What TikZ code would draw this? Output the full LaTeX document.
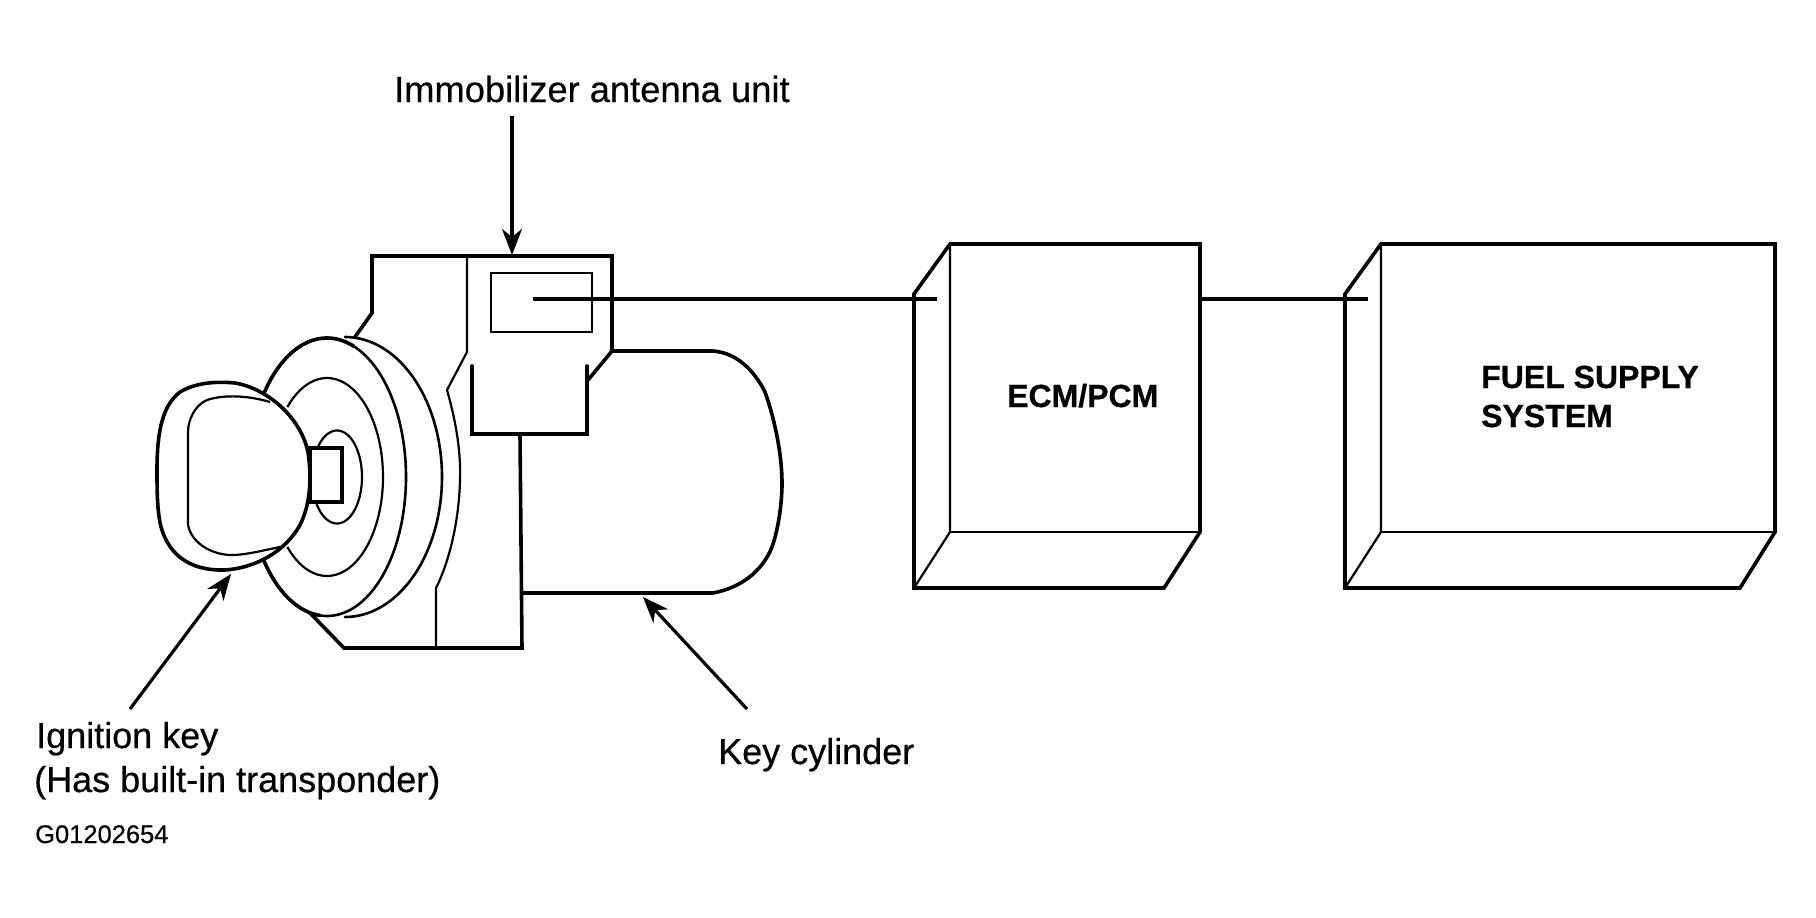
\documentclass[tikz,border=0pt]{standalone}
\usepackage{fontspec}
\setmainfont[FakeBold=0.5,BoldFeatures={FakeBold=0.6}]{Liberation Sans}
\usetikzlibrary{arrows.meta}
\tikzset{
  thickline/.style={line width=3.6pt,line join=miter,line cap=round},
  midline/.style={line width=2.6pt,line join=round,line cap=round},
  thinline/.style={line width=2.2pt,line join=miter},
  wire/.style={line width=3.4pt},
  pointer/.style={line width=3.2pt,-{Stealth[length=26pt,width=20pt,inset=8pt]}},
  label/.style={anchor=base west,inner sep=0pt,font=\fontsize{36.3}{36.3}\selectfont},
  lowlabel/.style={anchor=base west,inner sep=0pt,font=\fontsize{36}{36}\selectfont},
  boxlabel/.style={anchor=base west,inner sep=0pt,font=\fontsize{32}{32}\selectfont\bfseries},
  code/.style={anchor=base west,inner sep=0pt,font=\fontsize{25.5}{25.5}\selectfont}
}
\newcommand{\earc}[7][thinline]{\draw[#1] plot[domain=#6:#7,samples=70,smooth] ({#2+#4*cos(\x)},{#3-#5*sin(\x)});}
\begin{document}
\begin{tikzpicture}[x=1pt,y=-1pt]
\useasboundingbox[fill=white] (0,0) rectangle (1816,918);

% housing
\draw[thickline] (355,337) -- (372,313) -- (372,256) -- (612,256) -- (612,351) -- (588,380);
\draw[thickline] (472,366) -- (472,434) -- (587,434) -- (587,366);
\draw[thickline] (520,434) -- (522,648) -- (344,648) -- (310,613);
\draw[thinline] (467,256) -- (467,352) -- (447,390)
  .. controls (457,425) and (461,455) .. (460,480)
  .. controls (459,520) and (450,560) .. (436,588) -- (436,648);
\draw[thinline] (491,273) rectangle (592,332);

% cylinder
\draw[thickline] (613,351) -- (713,351)
  .. controls (738,353) and (755,372) .. (765,392)
  .. controls (775,420) and (782,455) .. (782,483)
  .. controls (782,505) and (778,530) .. (772,547)
  .. controls (762,572) and (740,588) .. (713,593) -- (522,593);

% discs
\earc[midline]{327}{477}{79}{139}{143}{-143}
\earc[thickline]{327}{477}{79}{139}{143}{70}
\earc[thickline]{327}{477}{79}{139}{-143}{-95}
\earc[midline]{345}{477}{97}{140}{90}{-90}
\earc[thinline]{327}{477}{56}{99}{135}{-135}
\earc[thinline]{337}{477}{25}{46.5}{152}{-152}
\draw[thickline,fill=white] (310,448) rectangle (342,502);

% key
\draw[thickline,fill=white] (157,470)
  .. controls (157,430) and (163,405) .. (180,392)
  .. controls (195,383) and (215,381) .. (235,383)
  .. controls (265,388) and (300,415) .. (308,452)
  .. controls (312,480) and (310,505) .. (300,525)
  .. controls (285,552) and (255,568) .. (225,570)
  .. controls (190,571) and (170,555) .. (162,530)
  .. controls (157,515) and (157,490) .. (157,470) -- cycle;
\draw[thinline] (270,402)
  .. controls (250,396) and (225,394) .. (207,400)
  .. controls (195,405) and (188,420) .. (188,432) -- (188,525)
  .. controls (192,545) and (215,556) .. (235,555)
  .. controls (250,554) and (265,550) .. (280,547);

% control boxes
\coordinate (ecmTL) at (950,244);
\coordinate (ecmTR) at (1200,244);
\coordinate (ecmBR) at (1200,532);
\coordinate (ecmBL) at (950,532);
\coordinate (ecmBackT) at (914,294);
\coordinate (ecmBackB) at (914,588);
\coordinate (ecmBackR) at (1164,588);
\draw[thickline] (ecmBackB) -- (ecmBackT) -- (ecmTL) -- (ecmTR) -- (ecmBR) -- (ecmBackR) -- cycle;
\draw[thinline] (ecmTL) -- (ecmBL) -- (ecmBackB);
\draw[thinline] (ecmBL) -- (ecmBR);

\coordinate (fuelTL) at (1381,244);
\coordinate (fuelTR) at (1775,244);
\coordinate (fuelBR) at (1775,532);
\coordinate (fuelBL) at (1381,532);
\coordinate (fuelBackT) at (1345,294);
\coordinate (fuelBackB) at (1345,588);
\coordinate (fuelBackR) at (1740,588);
\draw[thickline] (fuelBackB) -- (fuelBackT) -- (fuelTL) -- (fuelTR) -- (fuelBR) -- (fuelBackR) -- cycle;
\draw[thinline] (fuelTL) -- (fuelBL) -- (fuelBackB);
\draw[thinline] (fuelBL) -- (fuelBR);

% wires
\coordinate (antennaEnd) at (533,299);
\coordinate (ecmIn) at (937,299);
\coordinate (ecmOut) at (1200,299);
\coordinate (fuelIn) at (1368,299);
\draw[wire] (antennaEnd) -- (ecmIn);
\draw[wire] (ecmOut) -- (fuelIn);

% labels
\node[label] (antennaLabel) at (394,102) {Immobilizer antenna unit};
\node[lowlabel] (keyLabelA) at (36,748) {Ignition key};
\node[lowlabel] (keyLabelB) at (34,792) {(Has built-in transponder)};
\node[lowlabel] (cylLabel) at (718,764) {Key cylinder};
\node[code] (figCode) at (35,843) {G01202654};
\node[boxlabel] (ecmLabel) at (1007,407) {ECM/PCM};
\node[boxlabel] (fuelLabelA) at (1481,388) {FUEL SUPPLY};
\node[boxlabel] (fuelLabelB) at (1481,427) {SYSTEM};

% pointers
\coordinate (antTail) at (512,116);
\coordinate (antTip) at (512,255);
\coordinate (keyTail) at (130,709);
\coordinate (keyTip) at (231,574);
\coordinate (cylTail) at (747,709);
\coordinate (cylTip) at (643,597);
\draw[pointer] (antTail) -- (antTip);
\draw[pointer] (keyTail) -- (keyTip);
\draw[pointer] (cylTail) -- (cylTip);
\end{tikzpicture}
\end{document}
